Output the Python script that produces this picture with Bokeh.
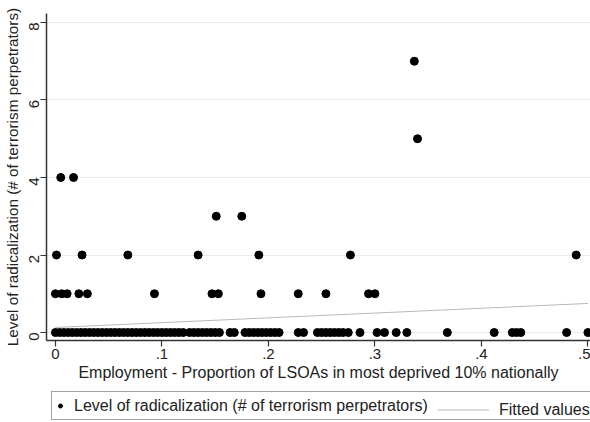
import math
from bokeh.plotting import figure
from bokeh.layouts import column
from bokeh.models import Range1d, FixedTicker, Legend, LegendItem
from bokeh.embed import file_html
from bokeh.resources import INLINE

# ---- data ----
# employment share (x) of areas, grouped by level of radicalization (y)
emp_level0 = [0.000, 0.004, 0.008, 0.012, 0.016, 0.020, 0.024, 0.028, 0.032, 0.036,
              0.040, 0.044, 0.048, 0.052, 0.056, 0.060, 0.064, 0.068, 0.072, 0.076,
              0.080, 0.084, 0.088, 0.092, 0.096, 0.100, 0.104, 0.108, 0.112, 0.116,
              0.120, 0.126, 0.130, 0.134, 0.138, 0.142, 0.146, 0.150, 0.154, 0.164,
              0.168, 0.178, 0.182, 0.186, 0.190, 0.194, 0.198, 0.202, 0.206, 0.210,
              0.228, 0.233, 0.246, 0.250, 0.254, 0.258, 0.262, 0.266, 0.270, 0.275,
              0.286, 0.302, 0.309, 0.320, 0.330, 0.368, 0.412, 0.429, 0.433, 0.437,
              0.480, 0.500]
emp_level1 = [0.000, 0.006, 0.011, 0.022, 0.030, 0.093, 0.147, 0.153, 0.193, 0.228,
              0.254, 0.294, 0.300]
emp_level2 = [0.001, 0.025, 0.068, 0.134, 0.191, 0.277, 0.489]
emp_level3 = [0.151, 0.175]
emp_level4 = [0.005, 0.017]
emp_level5 = [0.340]
emp_level7 = [0.337]

fitted_x = [0.0, 0.5]
fitted_y = [0.13, 0.75]

x_ticks = [0, 0.1, 0.2, 0.3, 0.4, 0.5]
x_tick_labels = ["0", ".1", ".2", ".3", ".4", ".5"]
y_ticks = [0, 2, 4, 6, 8]

groups = [(0, emp_level0), (1, emp_level1), (2, emp_level2), (3, emp_level3),
          (4, emp_level4), (5, emp_level5), (7, emp_level7)]
xs, ys = [], []
for lvl, vals in groups:
    xs.extend(vals)
    ys.extend([lvl] * len(vals))

FONT = "Liberation Sans"
TXT = "#222222"
FIT_COLOR = "#b8b8b8"
LEFT = 41
W = 590

p = figure(width=W, height=390, output_backend="svg", toolbar_location=None,
           x_range=Range1d(-0.00837, 0.50242), y_range=Range1d(-0.206, 8.232),
           min_border_left=LEFT, min_border_right=0, min_border_top=13,
           min_border_bottom=50)
p.outline_line_color = None
p.background_fill_color = "white"
p.border_fill_color = "white"

p.xgrid.visible = False
p.ygrid.ticker = FixedTicker(ticks=y_ticks)
p.ygrid.grid_line_color = "#e6eef1"
p.ygrid.grid_line_width = 1.2

# axes
p.xaxis.ticker = FixedTicker(ticks=x_ticks)
p.xaxis.major_label_overrides = {t: l for t, l in zip(x_ticks, x_tick_labels)}
p.yaxis.ticker = FixedTicker(ticks=y_ticks)
p.yaxis.major_label_orientation = math.pi / 2
for ax in (p.xaxis, p.yaxis):
    ax.axis_line_color = "#333333"
    ax.axis_line_width = 1.5
    ax.major_tick_line_color = "#333333"
    ax.major_tick_line_width = 1.2
    ax.major_tick_out = 6
    ax.major_tick_in = 0
    ax.minor_tick_line_color = None
    ax.major_label_text_font = FONT
    ax.major_label_text_font_size = "15px"
    ax.major_label_text_color = TXT
    ax.axis_label_text_font = FONT
    ax.axis_label_text_font_style = "normal"
    ax.axis_label_text_color = TXT
p.xaxis.axis_label_text_font_size = "16px"
p.yaxis.axis_label_text_font_size = "15.3px"
p.xaxis.major_label_standoff = 2
p.xaxis.axis_label_standoff = 2
p.yaxis.major_label_standoff = 6
p.yaxis.axis_label_standoff = 1
p.xaxis.axis_label = "Employment - Proportion of LSOAs in most deprived 10% nationally"
p.yaxis.axis_label = "Level of radicalization (# of terrorism perpetrators)"

p.line(fitted_x, fitted_y, line_color=FIT_COLOR, line_width=1)
p.scatter(xs, ys, size=8, fill_color="black", line_color="black")

# ---- legend strip below the plot (its frame lines up with the plot frame) ----
lg = figure(width=W, height=31, output_backend="svg", toolbar_location=None,
            x_range=Range1d(0, 1), y_range=Range1d(0, 1),
            x_axis_location=None, y_axis_location=None,
            min_border_left=LEFT, min_border_right=0, min_border_top=0,
            min_border_bottom=0)
lg.grid.visible = False
lg.outline_line_color = None
lg.background_fill_color = "white"
lg.border_fill_color = "white"
pts_key = lg.scatter([-5], [-5], size=7, fill_color="black", line_color="black")
fit_key = lg.line([-5, -4], [-5, -5], line_color=FIT_COLOR, line_width=1.2)

leg1 = Legend(items=[LegendItem(label="Level of radicalization (# of terrorism perpetrators)",
                                renderers=[pts_key])],
              location=(5, 1), orientation="horizontal", margin=0, padding=3,
              glyph_width=10, glyph_height=21, label_height=21, label_standoff=9,
              label_width=518, border_line_color="#444444", border_line_width=1.5,
              background_fill_color="white", background_fill_alpha=1.0,
              label_text_font=FONT, label_text_font_size="16px",
              label_text_color=TXT)
leg2 = Legend(items=[LegendItem(label="Fitted values", renderers=[fit_key])],
              location=(391, 1), orientation="horizontal", margin=0, padding=3,
              glyph_width=52, glyph_height=21, label_height=21, label_standoff=10,
              border_line_color=None, background_fill_alpha=0.0,
              label_text_font=FONT, label_text_font_size="16px",
              label_text_color=TXT)
lg.add_layout(leg1, "center")
lg.add_layout(leg2, "center")

layout = column(p, lg, spacing=0)
open("out.html", "w").write(file_html(layout, INLINE))
